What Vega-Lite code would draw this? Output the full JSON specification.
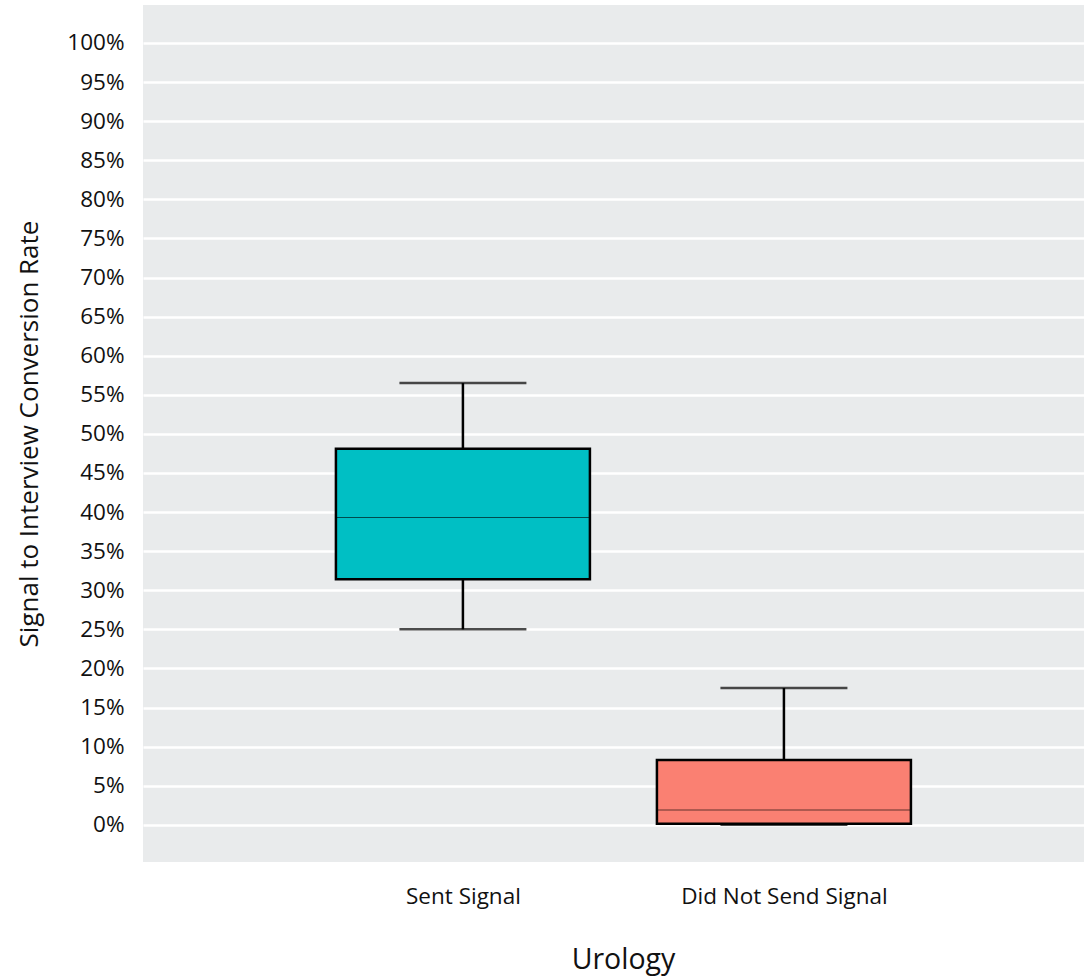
{
  "$schema": "https://vega.github.io/schema/vega-lite/v6.json",
  "width": 941,
  "height": 857,
  "autosize": {"type": "none"},
  "padding": {"left": 143, "top": 5, "right": 0, "bottom": 115},
  "background": "#ffffff",
  "config": {
    "view": {"fill": "#E9EBEC", "stroke": null},
    "font": "Open Sans",
    "axis": {"labelColor": "#111111", "titleColor": "#111111", "titleFontWeight": "normal", "labelLimit": 0}
  },
  "data": {
    "values": [
      {"group": "Sent Signal", "lower": 25.0, "q1": 31.4, "median": 39.3, "q3": 48.1, "upper": 56.5},
      {"group": "Did Not Send Signal", "lower": 0.0, "q1": 0.15, "median": 1.9, "q3": 8.3, "upper": 17.5}
    ]
  },
  "encoding": {
    "x": {
      "field": "group",
      "type": "nominal",
      "sort": ["Sent Signal", "Did Not Send Signal"],
      "scale": {"type": "point", "padding": 0.9657, "align": 0.516},
      "axis": {
        "title": "Urology",
        "labelAngle": 0,
        "labelFontSize": 22.5,
        "titleFontSize": 28.5,
        "ticks": false,
        "domain": false,
        "grid": false,
        "labelPadding": 23,
        "titlePadding": 38,
        "titleX": 480
      }
    }
  },
  "layer": [
    {
      "mark": {"type": "rule", "color": "#000000", "strokeWidth": 2.5},
      "encoding": {
        "y": {
          "field": "lower",
          "type": "quantitative",
          "scale": {"domain": [-4.75, 104.85], "nice": false, "zero": false},
          "axis": {
            "title": "Signal to Interview Conversion Rate",
            "values": [0, 5, 10, 15, 20, 25, 30, 35, 40, 45, 50, 55, 60, 65, 70, 75, 80, 85, 90, 95, 100],
            "labelExpr": "datum.value + '%'",
            "labelFontSize": 22.5,
            "titleFontSize": 26,
            "ticks": false,
            "domain": false,
            "grid": true,
            "gridColor": "#ffffff",
            "gridWidth": 2.5,
            "labelPadding": 19,
            "titlePadding": 24
          }
        },
        "y2": {"field": "upper"}
      }
    },
    {
      "mark": {"type": "tick", "color": "#000000", "thickness": 2.5, "size": 127},
      "encoding": {"y": {"field": "lower", "type": "quantitative"}}
    },
    {
      "mark": {"type": "tick", "color": "#000000", "thickness": 2.5, "size": 127},
      "encoding": {"y": {"field": "upper", "type": "quantitative"}}
    },
    {
      "mark": {"type": "bar", "size": 254, "stroke": "#000000", "strokeWidth": 2.5},
      "encoding": {
        "y": {"field": "q1", "type": "quantitative"},
        "y2": {"field": "q3"},
        "color": {
          "field": "group",
          "type": "nominal",
          "scale": {"domain": ["Sent Signal", "Did Not Send Signal"], "range": ["#00BFC4", "#FA8072"]},
          "legend": null
        }
      }
    },
    {
      "mark": {"type": "tick", "color": "#000000", "opacity": 0.6, "thickness": 1, "size": 252},
      "encoding": {"y": {"field": "median", "type": "quantitative"}}
    }
  ]
}
